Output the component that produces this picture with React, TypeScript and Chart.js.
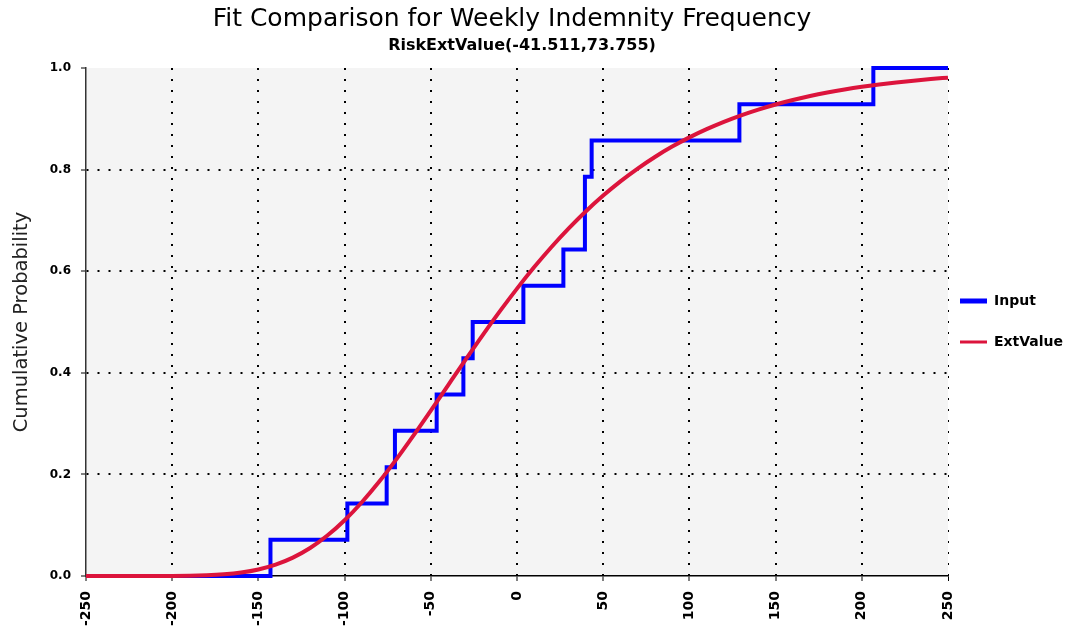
import React, { useEffect, useRef } from "react";
import { Chart, registerables } from "chart.js";

Chart.register(...registerables);

const TITLE = "Fit Comparison for Weekly Indemnity Frequency";
const SUBTITLE = "RiskExtValue(-41.511,73.755)";
const Y_LABEL = "Cumulative Probability";
const LEGEND_INPUT = "Input";
const LEGEND_FIT = "ExtValue";

const X_MIN = -250;
const X_MAX = 250;
const X_STEP = 50;
const Y_MIN = 0;
const Y_MAX = 1;
const Y_STEP = 0.2;

// Empirical (step) CDF of the input data
const INPUT_X = [-250, -143, -98.4, -75.6, -70.8, -46.6, -31.1, -25.7, 3.7, 26.9, 39.4, 43.3, 129, 206.7, 250];
const INPUT_P = [0, 0.0714, 0.1429, 0.2143, 0.2857, 0.3571, 0.4286, 0.5, 0.5714, 0.6429, 0.7857, 0.8571, 0.9286, 1.0, 1.0];

// Fitted ExtValue CDF
const FIT_X = [-250, -200, -180, -170, -160, -150, -140, -130, -120, -110, -100, -90, -80, -70, -60, -50, -40, -30, -20, -10, 0, 10, 20, 30, 40, 50, 60, 70, 80, 90, 100, 110, 120, 130, 140, 150, 160, 170, 180, 190, 200, 210, 220, 230, 240, 250];
const FIT_P = [0, 0.0002, 0.0015, 0.0033, 0.0068, 0.0129, 0.0224, 0.0362, 0.0551, 0.0796, 0.1097, 0.1452, 0.1854, 0.2296, 0.2767, 0.3256, 0.3754, 0.425, 0.4738, 0.5208, 0.5657, 0.6081, 0.6477, 0.6843, 0.7181, 0.7489, 0.7769, 0.8021, 0.8249, 0.8453, 0.8635, 0.8797, 0.8941, 0.9069, 0.9182, 0.9282, 0.937, 0.9448, 0.9516, 0.9576, 0.9629, 0.9675, 0.9716, 0.9751, 0.9782, 0.981];

const BLUE = "#0000ff";
const RED = "#dc143c";
const FONT = "'DejaVu Sans', 'Liberation Sans', sans-serif";

const bgPlugin = {
  id: "plotBg",
  beforeDraw(chart: any) {
    const { ctx, chartArea } = chart;
    ctx.save();
    ctx.fillStyle = "#f4f4f4";
    ctx.fillRect(chartArea.left, chartArea.top, chartArea.right - chartArea.left, chartArea.bottom - chartArea.top);
    ctx.restore();
  },
};

const textPlugin = {
  id: "titlesLegend",
  afterDraw(chart: any) {
    const { ctx, chartArea } = chart;
    ctx.save();
    ctx.fillStyle = "#000";
    ctx.textAlign = "center";
    ctx.textBaseline = "middle";
    const cx = 512;
    ctx.font = `25px ${FONT}`;
    ctx.fillText(TITLE, cx, 19);
    ctx.font = `bold 16px ${FONT}`;
    ctx.fillText(SUBTITLE, cx + 10, 46);

    // legend
    const lx = chartArea.right + 12;
    const items = [
      { label: LEGEND_INPUT, color: BLUE, width: 5, y: 301 },
      { label: LEGEND_FIT, color: RED, width: 3, y: 342 },
    ];
    ctx.textAlign = "left";
    ctx.font = `bold 14px ${FONT}`;
    for (const it of items) {
      ctx.fillStyle = it.color;
      ctx.fillRect(lx, it.y - it.width / 2, 27, it.width);
      ctx.fillStyle = "#000";
      ctx.fillText(it.label, lx + 34, it.y);
    }
    ctx.restore();
  },
};

function App() {
  const canvasRef = useRef<HTMLCanvasElement | null>(null);

  useEffect(() => {
    const canvas = canvasRef.current;
    if (!canvas) return;
    const chart = new Chart(canvas, {
      type: "line",
      data: {
        datasets: [
          {
            label: LEGEND_FIT,
            data: FIT_X.map((x, i) => ({ x, y: FIT_P[i] })),
            borderColor: RED,
            backgroundColor: RED,
            borderWidth: 4,
            pointRadius: 0,
            cubicInterpolationMode: "monotone",
            order: 0,
            clip: 4,
          },
          {
            label: LEGEND_INPUT,
            data: INPUT_X.map((x, i) => ({ x, y: INPUT_P[i] })),
            borderColor: BLUE,
            backgroundColor: BLUE,
            borderWidth: 4,
            pointRadius: 0,
            stepped: "before",
            order: 1,
            clip: 4,
          },
        ],
      },
      options: {
        responsive: false,
        animation: false,
        layout: { padding: { top: 68, right: 125, left: 0, bottom: 0 } },
        plugins: {
          legend: { display: false },
          title: { display: false },
          tooltip: { enabled: false },
        },
        scales: {
          x: {
            type: "linear",
            min: X_MIN,
            max: X_MAX,
            ticks: {
              stepSize: X_STEP,
              minRotation: 90,
              maxRotation: 90,
              padding: 10,
              color: "#000",
              font: { family: FONT, size: 14, weight: "bold" },
              callback: (v: any) => String(v),
            },
            grid: {
              color: (c: any) => (c.tick && (c.tick.value === X_MIN) ? "rgba(0,0,0,0)" : "#000"),
              lineWidth: (c: any) => (c.tick && c.tick.value === X_MAX ? 1 : 2),
              tickLength: 5,
              tickColor: "#000",
              tickWidth: 1,
            },
            border: { display: true, color: "#000", width: 1.5, dash: [2, 9] },
            afterFit: (scale: any) => {
              scale.height = 56;
            },
          },
          y: {
            min: Y_MIN,
            max: Y_MAX,
            ticks: {
              stepSize: Y_STEP,
              padding: 10,
              color: "#000",
              font: { family: FONT, size: 12, weight: "bold" },
              callback: (v: any) => Number(v).toFixed(1),
            },
            grid: {
              color: (c: any) => (c.tick && (c.tick.value === Y_MIN || c.tick.value === Y_MAX) ? "rgba(0,0,0,0)" : "#000"),
              lineWidth: 2,
              tickLength: 5,
              tickColor: "#000",
              tickWidth: 1,
            },
            border: { display: true, color: "#333", width: 1.5, dash: [2, 9] },
            title: {
              display: true,
              text: Y_LABEL,
              color: "#222",
              font: { family: FONT, size: 19.5 },
              padding: { top: 10, bottom: 0 },
            },
            afterFit: (scale: any) => {
              scale.width = 86;
            },
          },
        },
      },
      plugins: [bgPlugin, textPlugin],
    } as any);
    return () => chart.destroy();
  }, []);

  return (
    <div style={{ position: "fixed", left: 0, top: 0, width: 1073, height: 632, background: "#fff" }}>
      <canvas ref={canvasRef} width={1073} height={632} style={{ display: "block" }} />
    </div>
  );
}

export default App;
